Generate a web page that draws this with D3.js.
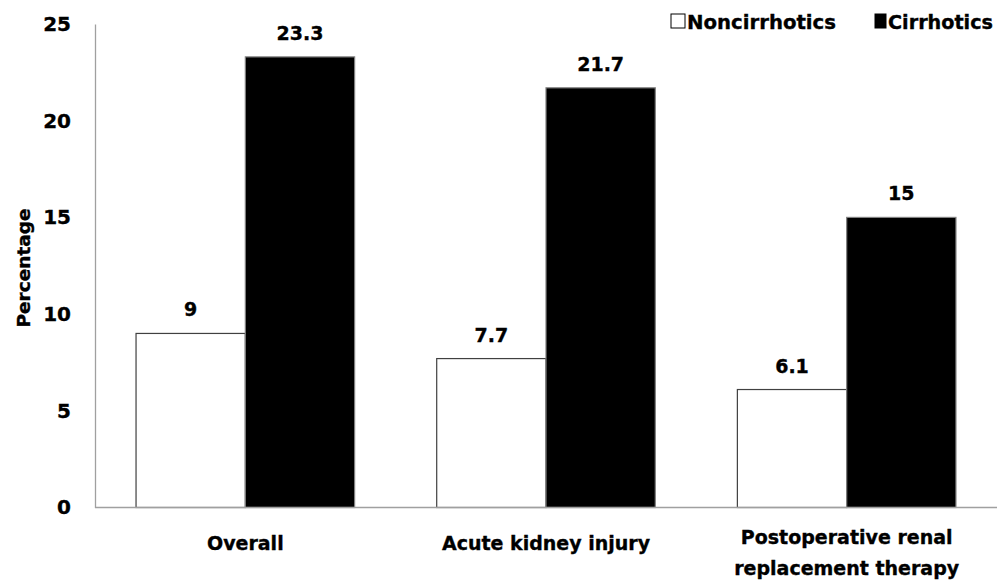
<!DOCTYPE html>
<html>
<head>
<meta charset="utf-8">
<script src="https://cdn.jsdelivr.net/npm/d3@7"></script>
<style>
  html, body { margin: 0; padding: 0; background: #fff; }
  svg text { font-family: "DejaVu Sans", Verdana, sans-serif; font-weight: bold; fill: #000; stroke: #000; stroke-width: 0.35px; }
</style>
</head>
<body>
<svg id="chart" width="1003" height="588"></svg>
<script>
// Outcome percentages by group
const categories = ["Overall", "Acute kidney injury", "Postoperative renal replacement therapy"];
const categoryLines = [["Overall"], ["Acute kidney injury"], ["Postoperative renal", "replacement therapy"]];
const seriesNames = ["Noncirrhotics", "Cirrhotics"];
const noncirrhotics = [9, 7.7, 6.1];
const cirrhotics = [23.3, 21.7, 15];
const yTicks = [0, 5, 10, 15, 20, 25];

const svg = d3.select("#chart");
const plot = { left: 95, right: 997, top: 24, bottom: 507.5 };

const rows = categories.map((c, i) => ({
  category: c,
  lines: categoryLines[i],
  values: [
    { series: seriesNames[0], value: noncirrhotics[i] },
    { series: seriesNames[1], value: cirrhotics[i] }
  ]
}));

const x0 = d3.scaleBand()
  .domain(categories)
  .range([plot.left, plot.right])
  .paddingInner(0.273)
  .paddingOuter(0.1365);

const x1 = d3.scaleBand()
  .domain(seriesNames)
  .range([0, x0.bandwidth()])
  .padding(0);

const y = d3.scaleLinear().domain([0, 25]).range([plot.bottom, plot.top]);

const fillOf = { Noncirrhotics: "#ffffff", Cirrhotics: "#000000" };

// Y axis (line + labels, no tick marks)
const yAxis = d3.axisLeft(y).tickValues(yTicks).tickSize(0).tickPadding(24);
const gy = svg.append("g").attr("transform", `translate(${plot.left},0)`).call(yAxis);
gy.select(".domain").attr("stroke", "#a0a0a0").attr("stroke-width", 1.3);
gy.selectAll("text").style("font-size", "20px").attr("fill", "#000");

// Bars
const groups = svg.append("g").selectAll("g")
  .data(rows).join("g")
  .attr("transform", d => `translate(${x0(d.category)},0)`);

groups.selectAll("rect")
  .data(d => d.values).join("rect")
  .attr("x", d => x1(d.series))
  .attr("y", d => y(d.value))
  .attr("width", x1.bandwidth())
  .attr("height", d => y(0) - y(d.value))
  .attr("fill", d => fillOf[d.series])
  .attr("stroke", d => d.series === "Cirrhotics" ? "#808080" : "#404040")
  .attr("stroke-width", 1.2);

// Value labels
groups.selectAll("text.val")
  .data(d => d.values).join("text")
  .attr("class", "val")
  .attr("x", d => x1(d.series) + x1.bandwidth() / 2)
  .attr("y", d => y(d.value) - 17)
  .attr("text-anchor", "middle")
  .style("font-size", "19px")
  .text(d => d.value);

// Baseline (x axis line)
const xAxis = d3.axisBottom(x0).tickSize(0).tickFormat("");
const gx = svg.append("g").attr("transform", `translate(0,${plot.bottom})`).call(xAxis);
gx.select(".domain").attr("stroke", "#a0a0a0").attr("stroke-width", 1.3)
  .attr("d", `M${plot.left},0H${plot.right}`);

// Category labels
const catLabels = svg.append("g").selectAll("text")
  .data(rows).join("text")
  .attr("text-anchor", "middle")
  .style("font-size", "19px")
  .attr("x", d => x0(d.category) + x0.bandwidth() / 2)
  .attr("y", d => d.lines.length > 1 ? 544 : 550);
catLabels.selectAll("tspan")
  .data(d => d.lines.map(l => ({ l, x: x0(d.category) + x0.bandwidth() / 2 })))
  .join("tspan")
  .attr("x", d => d.x)
  .attr("dy", (d, i) => i === 0 ? 0 : 31)
  .text(d => d.l);

// Y axis title
svg.append("text")
  .attr("transform", "translate(30,268) rotate(-90)")
  .attr("text-anchor", "middle")
  .style("font-size", "18.5px")
  .text("Percentage");

// Legend
const legendItems = [
  { name: seriesNames[0], sx: 671, tx: 687, w: 14 },
  { name: seriesNames[1], sx: 875, tx: 888, w: 11 }
];
const lg = svg.append("g").selectAll("g").data(legendItems).join("g");
lg.append("rect")
  .attr("x", d => d.sx).attr("y", 14)
  .attr("width", d => d.w).attr("height", 14)
  .attr("fill", d => fillOf[d.name])
  .attr("stroke", "#000").attr("stroke-width", 1);
lg.append("text")
  .attr("x", d => d.tx).attr("y", 29)
  .style("font-size", "19.5px")
  .attr("textLength", d => d.name === "Noncirrhotics" ? 149 : 105)
  .attr("lengthAdjust", "spacingAndGlyphs")
  .text(d => d.name);
</script>
</body>
</html>
